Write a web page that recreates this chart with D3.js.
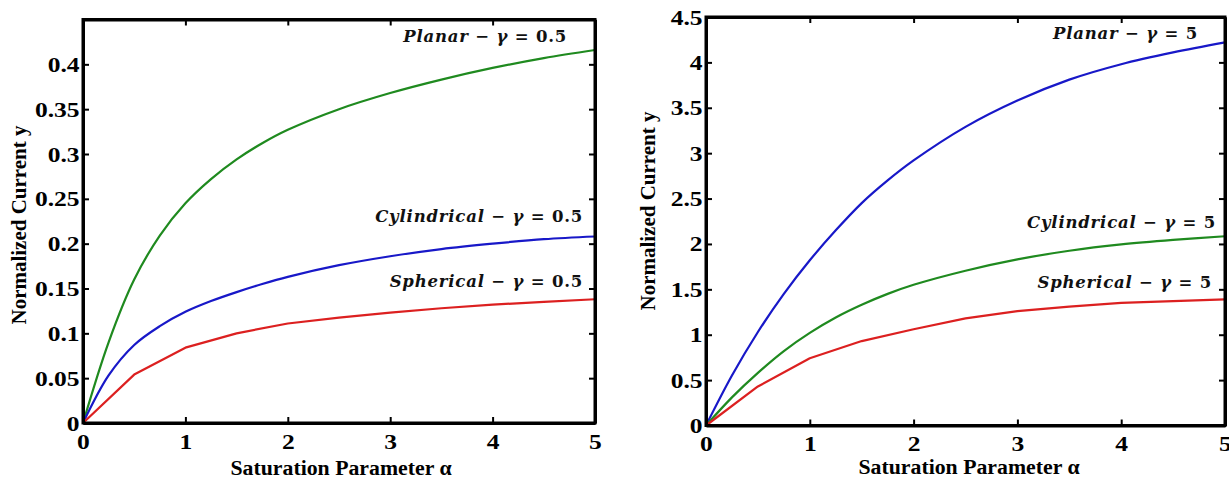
<!DOCTYPE html>
<html>
<head>
<meta charset="utf-8">
<script src="https://cdn.jsdelivr.net/npm/d3@7"></script>
<style>
  html, body { margin: 0; padding: 0; background: #fff; }
  svg { display: block; }
</style>
</head>
<body>
<svg id="chart" width="1229" height="482"></svg>
<script>
// ---------------- data ----------------
const alphaFine   = [0, 0.25, 0.5, 0.75, 1, 1.25, 1.5, 1.75, 2, 2.5, 3, 3.5, 4, 4.5, 5];
const alphaCoarse = [0, 0.5, 1, 1.5, 2, 2.5, 3, 3.5, 4, 4.5, 5];

// gamma = 0.5 (left panel)
const planarG05      = [0, 0.090, 0.160, 0.209, 0.245, 0.272, 0.294, 0.312, 0.327, 0.350, 0.368, 0.383, 0.396, 0.407, 0.416];
const cylindricalG05 = [0, 0.053, 0.087, 0.108, 0.124, 0.136, 0.146, 0.155, 0.163, 0.176, 0.186, 0.194, 0.200, 0.205, 0.208];
const sphericalG05   = [0, 0.054, 0.084, 0.100, 0.111, 0.1175, 0.123, 0.128, 0.132, 0.135, 0.138];

// gamma = 5 (right panel)
const planarG5      = [0, 0.55, 1.03, 1.45, 1.82, 2.15, 2.45, 2.70, 2.92, 3.29, 3.58, 3.81, 3.98, 4.11, 4.22];
const cylindricalG5 = [0, 0.31, 0.58, 0.82, 1.02, 1.19, 1.33, 1.45, 1.55, 1.705, 1.83, 1.925, 1.995, 2.045, 2.085];
const sphericalG5   = [0, 0.43, 0.74, 0.93, 1.06, 1.18, 1.26, 1.31, 1.35, 1.37, 1.39];

const xTicks    = [0, 1, 2, 3, 4, 5];
const yTicksG05 = [0, 0.05, 0.1, 0.15, 0.2, 0.25, 0.3, 0.35, 0.4];
const yTicksG5  = [0, 0.5, 1, 1.5, 2, 2.5, 3, 3.5, 4, 4.5];

const xLabel = "Saturation Parameter \u03b1";
const yLabel = "Normalized Current y";

// ---------------- drawing ----------------
const svg = d3.select("#chart");
const C = { green: "#1f8a1f", blue: "#1818c8", red: "#dc2020" };
const TICKFONT = "Liberation Serif";
const NOTEFONT = "DejaVu Serif";

function panel(cfg) {
  const x = d3.scaleLinear().domain([0, 5]).range([cfg.left, cfg.right]);
  const y = d3.scaleLinear().domain([0, cfg.ymax]).range([cfg.bottom, cfg.top]);
  const g = svg.append("g");

  const fmt = d => String(d);
  const styleAxis = (sel, showText) => {
    sel.attr("font-family", null).attr("font-size", null);
    sel.select(".domain").attr("stroke", "#000").attr("stroke-width", 3);
    sel.selectAll(".tick line").attr("stroke", "#000").attr("stroke-width", 2);
    sel.selectAll(".tick text")
      .style("font-family", TICKFONT).style("font-weight", "bold")
      .style("font-size", "22px").attr("fill", "#000")
      .attr("transform", "scale(1.16,1)")
      .style("display", showText ? null : "none");
  };

  const lineFine = d3.line().x((d, i) => x(alphaFine[i])).y(d => y(d)).curve(d3.curveCatmullRom.alpha(0.5));
  const lineCoarse = d3.line().x((d, i) => x(alphaCoarse[i])).y(d => y(d)).curve(d3.curveLinear);
  cfg.series.forEach(s => {
    g.append("path").datum(s.values)
      .attr("d", s.coarse ? lineCoarse : lineFine)
      .attr("fill", "none").attr("stroke", s.color)
      .attr("stroke-width", 2.2).attr("stroke-linejoin", "round");
  });

  g.append("g").attr("transform", `translate(0,${cfg.bottom})`)
    .call(d3.axisBottom(x).tickValues(xTicks).tickFormat(fmt).tickSizeInner(-6).tickSizeOuter(0).tickPadding(10))
    .call(s => styleAxis(s, true));
  g.append("g").attr("transform", `translate(0,${cfg.top})`)
    .call(d3.axisTop(x).tickValues(xTicks).tickSizeInner(-6).tickSizeOuter(0))
    .call(s => styleAxis(s, false));
  g.append("g").attr("transform", `translate(${cfg.left},0)`)
    .call(d3.axisLeft(y).tickValues(cfg.yTicks).tickFormat(fmt).tickSizeInner(-6).tickSizeOuter(0).tickPadding(3))
    .call(s => styleAxis(s, true));
  g.append("g").attr("transform", `translate(${cfg.right},0)`)
    .call(d3.axisRight(y).tickValues(cfg.yTicks).tickSizeInner(-6).tickSizeOuter(0))
    .call(s => styleAxis(s, false));
  g.append("rect").attr("x", cfg.left).attr("y", cfg.top)
    .attr("width", cfg.right - cfg.left).attr("height", cfg.bottom - cfg.top)
    .attr("fill", "none").attr("stroke", "#000").attr("stroke-width", 3);

  g.append("text")
    .attr("transform", `translate(${cfg.xLabelX},${cfg.xLabelY}) scale(1.09,1)`)
    .attr("text-anchor", "middle")
    .style("font-family", TICKFONT).style("font-weight", "bold").style("font-size", "20px")
    .text(xLabel);
  g.append("text")
    .attr("transform", `translate(${cfg.yLabelX},${cfg.yLabelY}) rotate(-90)`)
    .attr("text-anchor", "middle")
    .style("font-family", TICKFONT).style("font-weight", "bold").style("font-size", "21px")
    .text(yLabel);

  cfg.notes.forEach(n => {
    const t = g.append("text")
      .attr("x", n.x).attr("y", n.y).attr("text-anchor", "end")
      .style("font-family", NOTEFONT).style("font-weight", "bold").style("font-size", "16.5px")
      .attr("letter-spacing", 0.8).attr("fill", "#111");
    t.append("tspan").style("font-style", "italic").text(n.name);
    t.append("tspan").text(" \u2212 ");
    t.append("tspan").style("font-style", "italic").text("\u03b3");
    t.append("tspan").text(" = " + n.gamma);
  });
}

panel({
  left: 83, right: 595, top: 19.5, bottom: 423, ymax: 0.45, yTicks: yTicksG05,
  xLabelX: 341, xLabelY: 475, yLabelX: 26, yLabelY: 225,
  series: [
    { values: planarG05, color: C.green },
    { values: cylindricalG05, color: C.blue },
    { values: sphericalG05, color: C.red, coarse: true }
  ],
  notes: [
    { name: "Planar", gamma: "0.5", x: 567, y: 42 },
    { name: "Cylindrical", gamma: "0.5", x: 583, y: 222 },
    { name: "Spherical", gamma: "0.5", x: 583, y: 287 }
  ]
});

panel({
  left: 706, right: 1225, top: 17, bottom: 425.5, ymax: 4.5, yTicks: yTicksG5,
  xLabelX: 969, xLabelY: 474, yLabelX: 655, yLabelY: 211,
  series: [
    { values: planarG5, color: C.blue },
    { values: cylindricalG5, color: C.green },
    { values: sphericalG5, color: C.red, coarse: true }
  ],
  notes: [
    { name: "Planar", gamma: "5", x: 1198, y: 39 },
    { name: "Cylindrical", gamma: "5", x: 1216, y: 228 },
    { name: "Spherical", gamma: "5", x: 1212, y: 288 }
  ]
});
</script>
</body>
</html>
